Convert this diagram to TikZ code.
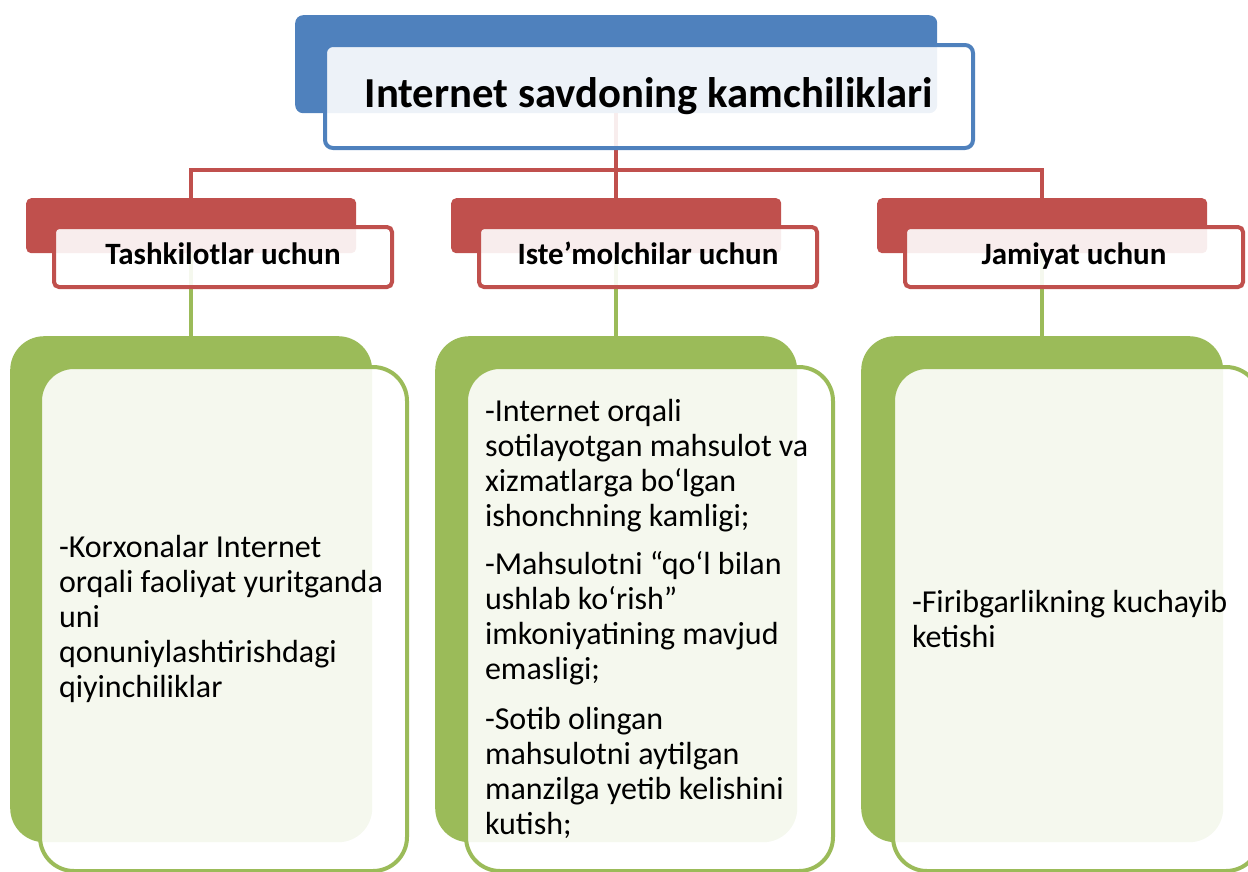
\documentclass[tikz,border=0pt]{standalone}
\usepackage{fontspec}
\setmainfont{Carlito}
\definecolor{boxBlue}{HTML}{4F81BD}
\definecolor{boxRed}{HTML}{C0504D}
\definecolor{boxGreen}{HTML}{9BBB59}
\begin{document}
\begin{tikzpicture}[x=1pt,y=-1pt,
  titleBack/.style={anchor=north west,inner sep=0pt,fill=boxBlue,rounded corners=8pt,minimum width=642pt,minimum height=98pt},
  titleFront/.style={anchor=north west,inner sep=0pt,draw=boxBlue,line width=4pt,fill=white,fill opacity=0.9,text opacity=1,rounded corners=8pt,minimum width=648pt,minimum height=103pt,font=\fontsize{42.7}{50}\selectfont\bfseries},
  headBack/.style={anchor=north west,inner sep=0pt,fill=boxRed,rounded corners=5pt,minimum width=330pt,minimum height=55pt},
  headFront/.style={anchor=north west,inner sep=0pt,draw=boxRed,line width=4pt,fill=white,fill opacity=0.9,text opacity=1,rounded corners=5pt,minimum width=338pt,minimum height=60pt,text height=21pt,text depth=7pt,font=\fontsize{31}{36}\selectfont\bfseries},
  noteBack/.style={anchor=north west,inner sep=0pt,fill=boxGreen,rounded corners=34pt,minimum width=362pt,minimum height=506pt},
  noteFront/.style={anchor=north west,inner xsep=19pt,inner ysep=0pt,draw=boxGreen,line width=4pt,fill=white,fill opacity=0.9,text opacity=1,rounded corners=34pt,text width=329pt,minimum height=504pt,align=flush left,font=\fontsize{32}{35}\selectfont},
  redLine/.style={draw=boxRed,line width=4pt},
  greenLine/.style={draw=boxGreen,line width=4pt}]
\useasboundingbox (0,0) rectangle (1248,871);%
%
% back boxes
\node[titleBack] (titleBack) at (295,15) {};%
\def\xpos{26};%
\node[headBack] (orgHeadBack) at (\xpos,198) {};%
\node[noteBack] (orgNoteBack) at (\xpos-16,336) {};%
\def\xpos{451};%
\node[headBack] (cusHeadBack) at (\xpos,198) {};%
\node[noteBack] (cusNoteBack) at (\xpos-16,336) {};%
\def\xpos{877};%
\node[headBack] (socHeadBack) at (\xpos,198) {};%
\node[noteBack] (socNoteBack) at (\xpos-16,336) {};%
%
% connectors
\draw[redLine] (titleBack.south) -- ++(0,57) coordinate (hub);%
\draw[redLine] (orgHeadBack.north) |- (hub) -| (socHeadBack.north);%
\draw[redLine] (hub) -- (cusHeadBack.north);%
\draw[greenLine] (orgHeadBack.south) -- (orgNoteBack.north);%
\draw[greenLine] (cusHeadBack.south) -- (cusNoteBack.north);%
\draw[greenLine] (socHeadBack.south) -- (socNoteBack.north);%
%
% front boxes
\node[titleFront] (titleFront) at (323,43) {Internet savdoning kamchiliklari};%
\def\xpos{26};%
\node[headFront] (orgHead) at (\xpos+26,225) {Tashkilotlar uchun};%
\node[noteFront] (orgNote) at (\xpos+12,365) {-Korxonalar Internet\\orqali faoliyat yuritganda\\uni\\qonuniylashtirishdagi\\qiyinchiliklar};%
\def\xpos{451};%
\node[headFront] (cusHead) at (\xpos+26,225) {Iste’molchilar uchun};%
\node[noteFront] (cusNote) at (\xpos+13,365) {-Internet orqali\\sotilayotgan mahsulot va\\xizmatlarga bo‘lgan\\ishonchning kamligi;\\[13pt]-Mahsulotni “qo‘l bilan\\ushlab ko‘rish”\\imkoniyatining mavjud\\emasligi;\\[15pt]-Sotib olingan\\mahsulotni aytilgan\\manzilga yetib kelishini\\kutish;};%
\def\xpos{877};%
\node[headFront] (socHead) at (\xpos+26,225) {Jamiyat uchun};%
\node[noteFront] (socNote) at (\xpos+14,365) {-Firibgarlikning kuchayib\\ketishi};%
\end{tikzpicture}
\end{document}
